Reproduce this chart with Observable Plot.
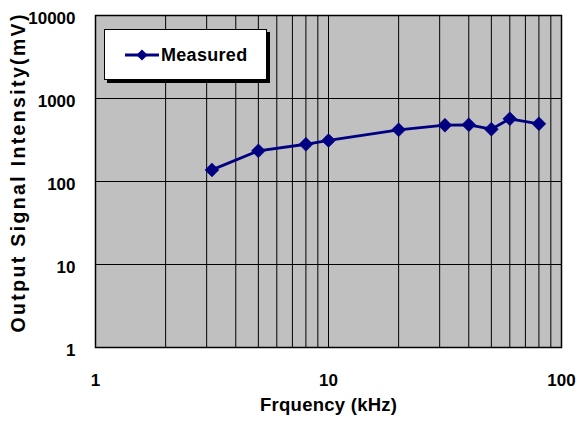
<!DOCTYPE html>
<html>
<head>
<meta charset="utf-8">
<script src="https://cdn.jsdelivr.net/npm/d3@7"></script>
<script src="https://cdn.jsdelivr.net/npm/@observablehq/plot@0.6"></script>
<style>
  html, body { margin: 0; padding: 0; background: #fff; }
  #wrap { position: relative; width: 580px; height: 423px; }
  #legend {
    position: absolute; left: 104px; top: 29px; width: 161px; height: 49px;
    background: #fff; border: 1px solid #000; box-shadow: 3px 3px 0 #000;
    font-family: "Liberation Sans", Arial, sans-serif; font-weight: bold; font-size: 18px;
  }
  #legend svg { position: absolute; left: 0; top: 0; }
  #legend span { position: absolute; left: 56px; top: 15px; letter-spacing: 0.3px; }
</style>
</head>
<body>
<div id="wrap"><div id="legend"></div></div>
<script>
const frequency = [3.16, 5, 8, 10, 20, 31.6, 40, 50, 60, 80];
const measured = [138, 234, 281, 312, 420, 477, 482, 427, 569, 496];
const seriesName = "Measured";
const xTickLabels = [1, 10, 100];
const yTickLabels = [1, 10, 100, 1000, 10000];
const xTitle = "Frquency (kHz)";
const yTitle = "Output Signal Intensity(mV)";

const data = frequency.map((f, i) => ({f, v: measured[i]}));
const xMinor = d3.scaleLog().domain([1, 100]).ticks();
const color = "#000080";

const chart = Plot.plot({
  width: 580, height: 423,
  marginLeft: 95, marginRight: 19, marginTop: 15, marginBottom: 76,
  style: {fontFamily: "Liberation Sans, Arial, sans-serif", fontSize: "17px", fontWeight: "bold", background: "#fff", color: "#000"},
  x: {type: "log", domain: [1, 100]},
  y: {type: "log", domain: [1, 10000]},
  marks: [
    Plot.frame({fill: "#c0c0c0"}),
    Plot.ruleX(xMinor, {stroke: "#000", strokeWidth: 1, strokeOpacity: 1}),
    Plot.ruleY(yTickLabels, {stroke: "#000", strokeWidth: 1, strokeOpacity: 1}),
    Plot.frame({stroke: "#000", strokeWidth: 1.5}),
    Plot.axisX({ticks: xTickLabels, tickSize: 0, tickPadding: 26, tickFormat: d => String(d), label: null, fontSize: 17}),
    Plot.axisY({ticks: yTickLabels, tickSize: 0, tickPadding: 20, dy: 3, tickFormat: d => String(d), label: null, fontSize: 17}),
    Plot.text([xTitle], {frameAnchor: "bottom", dy: 63, fontSize: 18.5, fontWeight: "bold"}),
    Plot.text([yTitle], {frameAnchor: "left", dx: -77, dy: -8, rotate: -90, textAnchor: "middle", fontSize: 19.5, fontWeight: "bold"}),
    Plot.line(data, {x: "f", y: "v", stroke: color, strokeWidth: 2.8}),
    Plot.dot(data, {x: "f", y: "v", symbol: "diamond2", r: 6.3, fill: color, stroke: color, strokeWidth: 0.5})
  ]
});
document.getElementById("wrap").prepend(chart);

d3.select(chart).selectAll("text").each(function() {
  const t = this.textContent;
  if (t === yTitle) d3.select(this).attr("textLength", 318).attr("lengthAdjust", "spacing");
  if (t === xTitle) d3.select(this).attr("textLength", 137).attr("lengthAdjust", "spacing");
});

// legend
const lg = document.getElementById("legend");
const ls = d3.create("svg").attr("width", 60).attr("height", 49);
ls.append("line").attr("x1", 20).attr("x2", 54).attr("y1", 25).attr("y2", 25).attr("stroke", color).attr("stroke-width", 2.8);
ls.append("path").attr("d", d3.symbol(d3.symbolDiamond2, 80)()).attr("transform", "translate(37,25)").attr("fill", color);
lg.appendChild(ls.node());
const sp = document.createElement("span");
sp.textContent = seriesName;
lg.appendChild(sp);
</script>
</body>
</html>
